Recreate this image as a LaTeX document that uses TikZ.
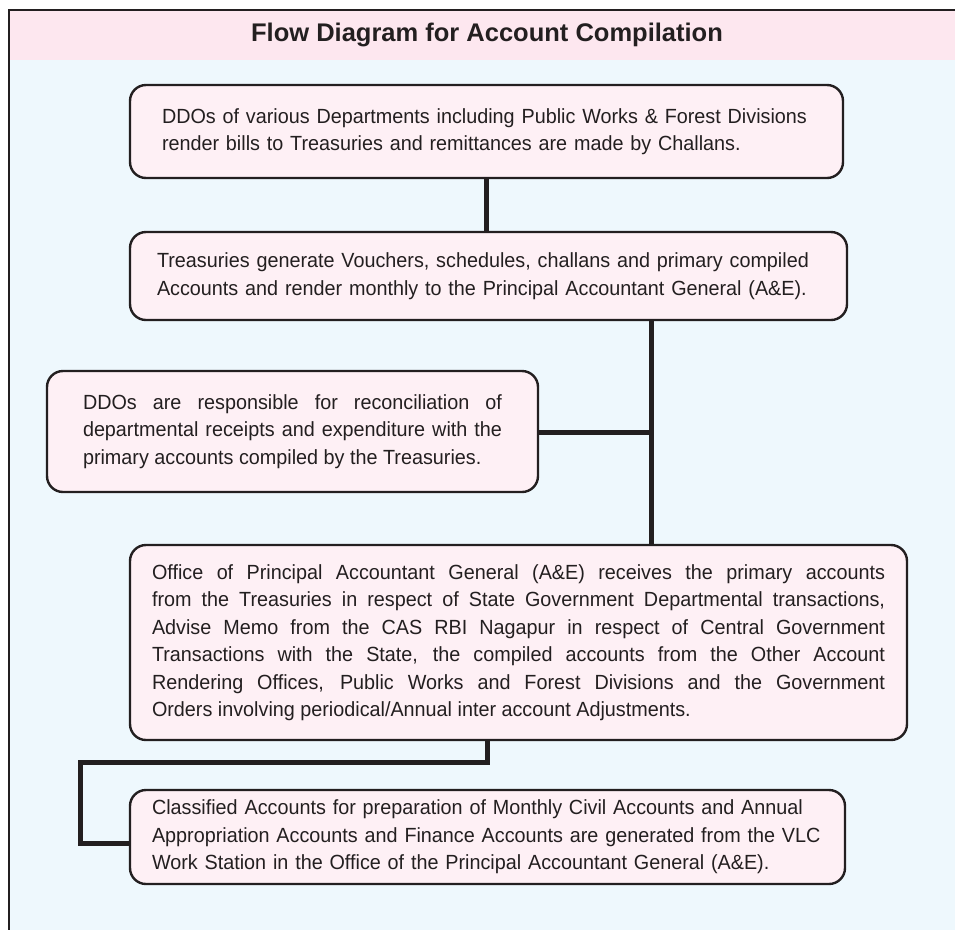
\documentclass[tikz,border=0pt]{standalone}
\usepackage{fontspec}
\setmainfont{Liberation Sans}
\newfontfamily\boxfont[FakeStretch=0.965]{Liberation Sans}
\usepackage{xcolor}
\usetikzlibrary{positioning,calc}
\definecolor{inkc}{HTML}{231F20}
\definecolor{titlebg}{HTML}{FDE7EF}
\definecolor{pagebg}{HTML}{EEF8FD}
\definecolor{boxbg}{HTML}{FEF0F5}
\hyphenpenalty=10000
\exhyphenpenalty=10000

\begin{document}
\begin{tikzpicture}[x=1pt,y=-1pt,
  stage/.style={draw=inkc,line width=2.4pt,fill=boxbg,rounded corners=16pt,
                font=\boxfont\fontsize{20.5}{27.5}\selectfont,text=inkc,inner ysep=0pt},
  link/.style={draw=inkc,line width=5pt},
]
\useasboundingbox (0,0) rectangle (955,930);
\fill[white] (0,0) rectangle (955,930);
\fill[titlebg] (9,10) rectangle (955,60);
\fill[pagebg] (9,60) rectangle (955,930);
\draw[inkc,line width=2pt] (955,10) -- (9,10) -- (9,930);
\node[font=\fontsize{25.5}{30}\bfseries,text=inkc] (title) at (487,35)
  {Flow Diagram for Account Compilation};

\node[stage,minimum width=713,minimum height=93,text width=649,align=left,
      inner xsep=32pt] (b1) at (486.5,131.5)
  {DDOs of various Departments including Public Works \& Forest Divisions\\
   render bills to Treasuries and remittances are made by Challans.};
\node[stage,minimum width=717,minimum height=88,text width=663,align=left,
      inner xsep=27pt] (b2) at (488.5,276)
  {Treasuries generate Vouchers, schedules, challans and primary compiled\\
   Accounts and render monthly to the Principal Accountant General (A\&E).};
\node[stage,minimum width=491,minimum height=121,text width=419,align=justify,
      inner xsep=36pt] (b3) at (292.5,431.5)
  {DDOs are responsible for reconciliation of\linebreak
   departmental receipts and expenditure with the\linebreak
   primary accounts compiled by the Treasuries.};
\node[stage,minimum width=777,minimum height=195,text width=733,align=justify,
      inner xsep=22pt] (b4) at (518.5,642.5)
  {Office of Principal Accountant General (A\&E) receives the primary accounts\linebreak
   from the Treasuries in respect of State Government Departmental transactions,\linebreak
   Advise Memo from the CAS RBI Nagapur in respect of Central Government\linebreak
   Transactions with the State, the compiled accounts from the Other Account\linebreak
   Rendering Offices, Public Works and Forest Divisions and the Government\linebreak
   Orders involving periodical/Annual inter account Adjustments.};
\node[stage,minimum width=715,minimum height=94,text width=671,align=left,
      inner xsep=22pt] (b5) at (487.5,837)
  {Classified Accounts for preparation of Monthly Civil Accounts and Annual\\
   Appropriation Accounts and Finance Accounts are generated from the VLC\\
   Work Station in the Office of the Principal Accountant General (A\&E).};

% connectors
\coordinate (j) at (651,432);
\coordinate (turn) at (487,762);
\coordinate (corner) at (80,762);
\coordinate (foot) at (80,843);
\draw[link] (b1.south) -- (b1.south |- b2.north);
\draw[link] (b2.south -| j) -- (b4.north -| j);
\draw[link] (b3.east |- j) -- (j);
\draw[link,line join=miter] (b4.south -| turn) -- (turn) -- (corner) -- (foot)
  -- (foot -| b5.west);
\end{tikzpicture}
\end{document}
